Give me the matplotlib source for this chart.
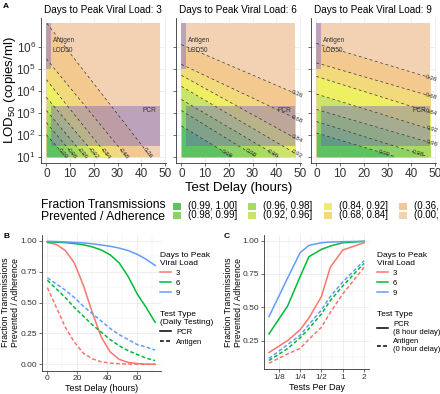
import numpy as np
import matplotlib.pyplot as plt
from matplotlib.patches import Rectangle
from matplotlib.lines import Line2D

plt.rcParams['font.family'] = ['Liberation Sans', 'DejaVu Sans']
plt.rcParams['mathtext.default'] = 'regular'

# ---- panel A: contour levels, bins and where each dashed contour meets 0 h / 48 h (log10 LOD50)
levels = [0.36, 0.68, 0.84, 0.92, 0.96, 0.98, 0.99]
bin_labels = ['(0.99, 1.00]', '(0.98, 0.99]', '(0.96, 0.98]', '(0.92, 0.96]',
              '(0.84, 0.92]', '(0.68, 0.84]', '(0.36, 0.68]', '(0.00, 0.36]']
bin_colors = ['#5CC35F', '#8CD264', '#A8DB5F', '#CAE46B',
              '#EEEF62', '#F2DA7C', '#F3C98F', '#F3D2B4']
peak_days = [3, 6, 9]
lod_0h_d3 = [7.09, 5.45, 4.5, 3.7, 3.1, 2.55, 2.0]
lod_48h_d3 = [0.44, -0.87, -1.94, -2.39, -3.06, -3.62, -3.9]
lod_0h_d6 = [6.1, 5.2, 4.7, 4.2, 3.6, 3.1, 2.4]
lod_48h_d6 = [3.88, 2.75, 1.84, 1.15, 0.55, -0.1, -0.74]
lod_0h_d9 = [6.15, 5.27, 4.65, 3.85, 3.15, 2.6, 2.08]
lod_48h_d9 = [4.59, 3.76, 3.02, 2.25, 1.64, 0.97, 0.52]
lod_range = (1.0, 7.08)
antigen_delay, antigen_lod = (0, 2), (5.0, 7.08)
pcr_delay, pcr_lod = (2, 48), (1.5, 3.3)

# ---- panel B: fraction prevented vs test delay (daily testing)
delay_h = [0, 6, 12, 18, 24, 30, 36, 42, 48, 54, 60, 66, 72]
pcr_b_d3 = [0.985, 0.97, 0.92, 0.82, 0.64, 0.42, 0.22, 0.10, 0.04, 0.015, 0.006, 0.002, 0.001]
pcr_b_d6 = [0.99, 0.988, 0.984, 0.977, 0.967, 0.95, 0.925, 0.885, 0.82, 0.71, 0.57, 0.46, 0.34]
pcr_b_d9 = [0.995, 0.993, 0.99, 0.986, 0.982, 0.975, 0.965, 0.955, 0.94, 0.92, 0.89, 0.85, 0.80]
ag_b_d3 = [0.62, 0.46, 0.30, 0.18, 0.09, 0.045, 0.02, 0.01, 0.005, 0.002, 0.001, 0.0, 0.0]
ag_b_d6 = [0.68, 0.61, 0.54, 0.46, 0.39, 0.32, 0.26, 0.20, 0.15, 0.11, 0.08, 0.05, 0.03]
ag_b_d9 = [0.70, 0.65, 0.60, 0.54, 0.47, 0.41, 0.35, 0.29, 0.24, 0.20, 0.16, 0.14, 0.115]

# ---- panel C: fraction prevented vs tests per day
tests_per_day = [1/11, 1/6, 1/4, 1/3, 1/2, 2/3, 1, 2]
pcr_c_d3 = [0.16, 0.25, 0.33, 0.42, 0.58, 0.80, 0.93, 0.985]
pcr_c_d6 = [0.30, 0.51, 0.73, 0.88, 0.935, 0.96, 0.985, 0.995]
pcr_c_d9 = [0.43, 0.72, 0.91, 0.965, 0.985, 0.99, 0.993, 0.996]
ag_c_d3 = [0.08, 0.15, 0.19, 0.26, 0.35, 0.46, 0.60, 0.80]
ag_c_d6 = [0.10, 0.19, 0.27, 0.34, 0.45, 0.55, 0.66, 0.83]
ag_c_d9 = [0.115, 0.22, 0.29, 0.37, 0.48, 0.58, 0.69, 0.85]

day_colors = ['#F8766D', '#00BA38', '#619CFF']
overlay = '#6E5AC8'
grid_c = '#EBEBEB'
txt_c = '#333333'

W, H = 440, 394
fig = plt.figure(figsize=(W / 100, H / 100), dpi=100)


def add_px_axes(l, t, r, b):
    return fig.add_axes([l / W, 1 - b / H, (r - l) / W, (b - t) / H])


def style(ax, size):
    for s in ['top', 'right']:
        ax.spines[s].set_visible(False)
    for s in ['left', 'bottom']:
        ax.spines[s].set_color('#333333')
        ax.spines[s].set_linewidth(0.6)
    ax.tick_params(length=2, width=0.5, colors='#333333', labelsize=size, pad=1.5)
    ax.set_axisbelow(True)


# ---------------- panel A ----------------
axes_a = [add_px_axes(40.7, 17.5, 166, 163.3),
          add_px_axes(175.7, 17.5, 301, 163.3),
          add_px_axes(310.7, 17.5, 436, 163.3)]
x = np.linspace(0, 48, 241)
starts = [lod_0h_d3, lod_0h_d6, lod_0h_d9]
ends = [lod_48h_d3, lod_48h_d6, lod_48h_d9]
band_colors = bin_colors[::-1]  # top (low fraction) to bottom

for i, (ax, day) in enumerate(zip(axes_a, peak_days)):
    style(ax, 8.5)
    ax.set_yscale('log')
    ax.set_xlim(-2.4, 50.4)
    ax.set_ylim(10 ** 0.7, 10 ** 7.33)
    ax.grid(True, color=grid_c, lw=0.6)
    ax.set_xticks([0, 10, 20, 30, 40, 50])
    ax.set_yticks([10 ** k for k in range(1, 7)])
    ax.minorticks_off()
    if i == 0:
        ax.set_yticklabels(['$10^{%d}$' % k for k in range(1, 7)])
        ax.set_ylabel('LOD$_{50}$ (copies/ml)', fontsize=9.5)
        ax.yaxis.set_label_coords(-0.185, 0.5)
    else:
        ax.set_yticklabels([])
    if i == 1:
        ax.set_xlabel('Test Delay (hours)', fontsize=9.5, labelpad=1)
    ax.set_title('Days to Peak Viral Load: %d' % day, fontsize=7.2, pad=3)

    s0 = np.array(starts[i])
    s1 = np.array(ends[i])
    heights = np.outer(1 - x / 48, s0) + np.outer(x / 48, s1)
    lo, hi = lod_range
    ax.fill_between(x, 10 ** lo, 10 ** hi, color=band_colors[0], lw=0, zorder=1)
    for k in range(len(levels)):
        top = np.clip(heights[:, k], lo, hi)
        ax.fill_between(x, 10 ** lo, 10 ** top, color=band_colors[k + 1], lw=0, zorder=1)

    ax.fill_between(antigen_delay, 10 ** antigen_lod[0], 10 ** antigen_lod[1],
                    color=overlay, alpha=0.4, lw=0, zorder=2)
    ax.fill_between(pcr_delay, 10 ** pcr_lod[0], 10 ** pcr_lod[1],
                    color=overlay, alpha=0.4, lw=0, zorder=2)
    ax.text(2.6, 10 ** 6.05, 'Antigen\nLOD50', fontsize=4.7, color=txt_c,
            va='center', ha='left', linespacing=1.5, zorder=4)
    ax.text(43.5, 10 ** 3.12, 'PCR', fontsize=4.7, color=txt_c,
            va='center', ha='center', zorder=4)

    for k, lev in enumerate(levels):
        h = heights[:, k]
        m = (h >= lo) & (h <= hi)
        ax.plot(x[m], 10 ** h[m], color='#333333', lw=0.5,
                ls=(0, (4, 4)), zorder=3)
        if s1[k] < 1.15:
            xl = 48 * (s0[k] - 1.15) / (s0[k] - s1[k])
            yl = 1.15
        else:
            xl = 48.5
            yl = s0[k] + (s1[k] - s0[k]) * xl / 48
        p0 = ax.transData.transform((0, 10 ** s0[k]))
        p1 = ax.transData.transform((48, 10 ** s1[k]))
        ang = np.degrees(np.arctan2(p1[1] - p0[1], p1[0] - p0[0]))
        ax.text(xl, 10 ** yl, '%.2f' % lev, fontsize=4.5, color=txt_c,
                rotation=ang, rotation_mode='anchor', ha='center', va='center',
                zorder=4)

# legend of panel A: 2 rows x 4 columns, last column runs off the figure edge
col_x = [173, 248, 324, 399]
row_y = [206, 215]
for j, (lab, c) in enumerate(zip(bin_labels, bin_colors)):
    kx, ky = col_x[j // 2], row_y[j % 2]
    fig.patches.append(Rectangle((kx / W, 1 - (ky + 3.5) / H), 8 / W, 7 / H,
                                 transform=fig.transFigure, facecolor=c,
                                 edgecolor='none'))
    fig.text((kx + 15) / W, 1 - ky / H, lab, fontsize=7, ha='left', va='center')
fig.text(41 / W, 1 - 211 / H, 'Fraction Transmissions\nPrevented / Adherence',
         fontsize=8.7, ha='left', va='center', linespacing=1.1)

# ---------------- panel B ----------------
axb = add_px_axes(42, 234.5, 160.5, 370.5)
style(axb, 6)
axb.grid(True, which='major', color=grid_c, lw=0.6)
axb.grid(True, which='minor', color=grid_c, lw=0.3)
for c, pcr, ag in zip(day_colors, [pcr_b_d3, pcr_b_d6, pcr_b_d9], [ag_b_d3, ag_b_d6, ag_b_d9]):
    axb.plot(delay_h, pcr, color=c, lw=1.1)
    axb.plot(delay_h, ag, color=c, lw=1.1, ls=(0, (2.5, 1.5)))
axb.set_xlim(-3.6, 75.6)
axb.set_ylim(-0.05, 1.05)
axb.set_xticks([0, 20, 40, 60])
axb.set_xticks([10, 30, 50, 70], minor=True)
axb.set_yticks([0, 0.25, 0.5, 0.75, 1.0])
axb.set_yticks([0.125, 0.375, 0.625, 0.875], minor=True)
axb.set_yticklabels(['0.00', '0.25', '0.50', '0.75', '1.00'])
axb.tick_params(which='minor', length=0)
axb.set_xlabel('Test Delay (hours)', fontsize=6.5, labelpad=1)
axb.set_ylabel('Fraction Transmissions\nPrevented / Adherence', fontsize=6.2,
               linespacing=1.1)
axb.yaxis.set_label_coords((20 - 42) / 118.5, 0.5)

# ---------------- panel C ----------------
axc = add_px_axes(264.3, 235.4, 368.7, 369.3)
style(axc, 6)
axc.set_xscale('log', base=2)
axc.grid(True, which='major', color=grid_c, lw=0.6)
axc.grid(True, which='minor', color=grid_c, lw=0.3)
for c, pcr, ag in zip(day_colors, [pcr_c_d3, pcr_c_d6, pcr_c_d9], [ag_c_d3, ag_c_d6, ag_c_d9]):
    axc.plot(tests_per_day, pcr, color=c, lw=1.1)
    axc.plot(tests_per_day, ag, color=c, lw=1.1, ls=(0, (2.5, 1.5)))
axc.set_xlim(2 ** -3.68, 2 ** 1.22)
axc.set_ylim(0.034, 1.04)
axc.set_xticks([1/8, 1/4, 1/2, 1, 2])
axc.set_xticklabels(['1/8', '1/4', '1/2', '1', '2'])
axc.set_xticks([2 ** -3.5, 2 ** -2.5, 2 ** -1.5, 2 ** -0.5, 2 ** 0.5], minor=True)
axc.set_xticklabels([], minor=True)
axc.set_yticks([0.25, 0.5, 0.75, 1.0])
axc.set_yticks([0.125, 0.375, 0.625, 0.875], minor=True)
axc.set_yticklabels(['0.25', '0.50', '0.75', '1.00'])
axc.tick_params(which='minor', length=0)
axc.set_xlabel('Tests Per Day', fontsize=6.5, labelpad=1)
axc.set_ylabel('Fraction Transmissions\nPrevented / Adherence', fontsize=6.2,
               linespacing=1.1)
axc.yaxis.set_label_coords((243 - 264.3) / 104.4, 0.5)

# legends for B and C
color_handles = [Line2D([], [], color=c, lw=1.1) for c in day_colors]
type_handles = [Line2D([], [], color='black', lw=1.1),
                Line2D([], [], color='black', lw=1.1, ls=(0, (2.5, 1.5)))]
leg_kw = dict(loc='upper left', frameon=False, fontsize=5.5, title_fontsize=6,
              handlelength=1.5, handletextpad=0.6, labelspacing=0.35,
              borderpad=0, borderaxespad=0, alignment='left')
for xl, types, ttl in [(160, ['PCR', 'Antigen'], 'Test Type\n(Daily Testing)'),
                       (377, ['PCR\n(8 hour delay)', 'Antigen\n(0 hour delay)'], 'Test Type')]:
    fig.legend(color_handles, ['3', '6', '9'], title='Days to Peak\nViral Load',
               bbox_to_anchor=(xl / W, 1 - 252 / H), **leg_kw)
    fig.legend(type_handles, types, title=ttl,
               bbox_to_anchor=(xl / W, 1 - 311 / H), **leg_kw)

# panel letters
for lx, ly, s in [(3, 6, 'A'), (3, 237, 'B'), (224, 237, 'C')]:
    fig.text(lx / W, 1 - ly / H, s, fontsize=6, fontweight='bold', ha='left', va='center')

fig.savefig('out.png', dpi=100)
